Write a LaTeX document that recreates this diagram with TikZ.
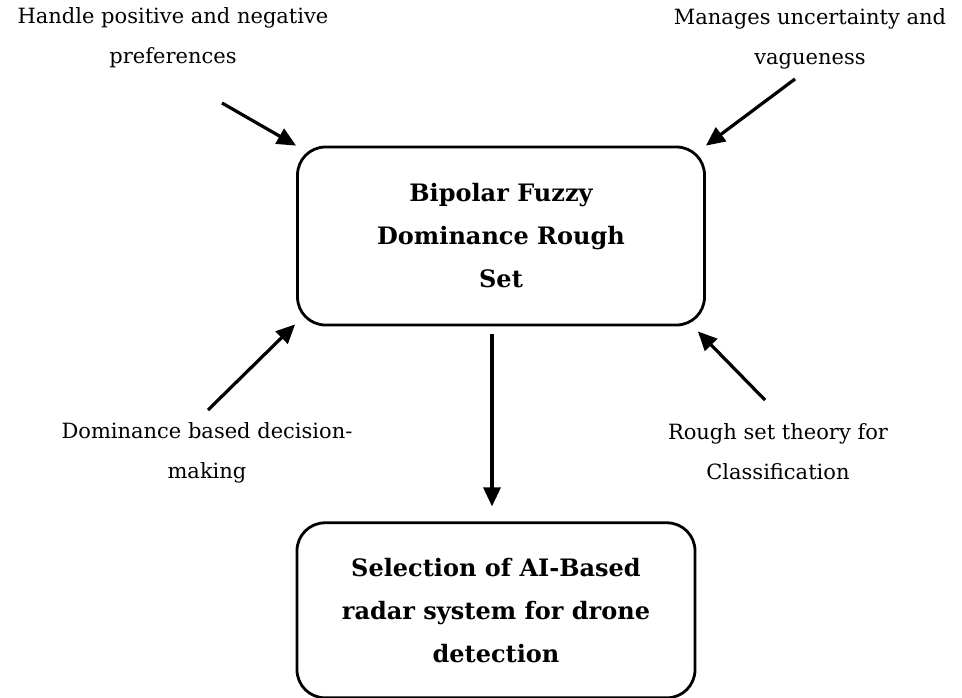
\documentclass[tikz,border=0pt]{standalone}
\usepackage{fontspec}
\setmainfont{DejaVu Serif}
\usetikzlibrary{arrows.meta,positioning,calc}

\begin{document}
\begin{tikzpicture}[x=1pt, y=1pt, >={Triangle[length=19pt,width=17pt]},
    line width=2.8pt,
    block/.style={draw, rounded corners=28pt, align=center, inner sep=0pt,
      font=\fontsize{24}{43}\selectfont\bfseries},
    note/.style={align=center, font=\fontsize{21}{40}\selectfont},
    link/.style={->, line width=3.2pt}]
    \useasboundingbox (0,0) rectangle (962,-697);
    \node [block, minimum width=407pt, minimum height=178pt] (bfdrs) at (501,-236)
      {Bipolar Fuzzy\\Dominance Rough\\Set};
    \node [block, minimum width=398pt, minimum height=175pt,
      below=195pt of bfdrs, xshift=-5pt] (radar)
      {Selection of AI-Based\\radar system for drone\\detection};
    % inputs round the main block
    \node [note] (pref)  at (173,-38)  {Handle positive and negative\\preferences};
    \node [note] (vague) at (810,-39)  {Manages uncertainty and\\vagueness};
    \node [note] (dom)   at (207,-453) {Dominance based decision-\\making};
    \node [note] (rough) at (778,-452) {Rough set theory for\\Classification};
    \coordinate (prefend)  at (222,-103);
    \coordinate (vagueend) at (795,-79);
    \coordinate (domend)   at (208,-410);
    \coordinate (roughend) at (765,-400);
    \path[link] (prefend)  edge (bfdrs.north west)
                (vagueend) edge (bfdrs.north east)
                (domend)   edge ([xshift=-1pt,yshift=2pt]bfdrs.south west)
                (roughend) edge ([xshift=-8pt,yshift=-5pt]bfdrs.south east);
    \draw[link] ([xshift=-9pt,yshift=-8pt]bfdrs.south) -- ([xshift=-4pt,yshift=15pt]radar.north);
\end{tikzpicture}
\end{document}
